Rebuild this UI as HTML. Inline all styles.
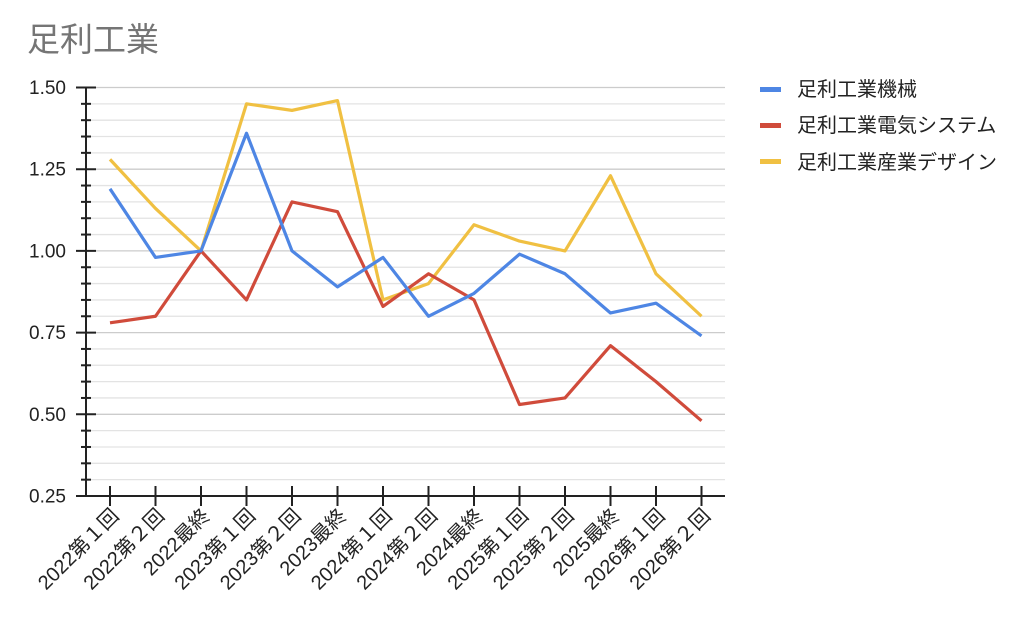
<!DOCTYPE html>
<html><head><meta charset="utf-8"><style>
body{margin:0;background:#fff;width:1024px;height:622px;overflow:hidden}
svg{display:block;font-family:"Liberation Sans","Noto Sans CJK JP",sans-serif}
</style></head><body>
<svg id="c" width="1024" height="622" xmlns="http://www.w3.org/2000/svg">
<text x="27" y="51" font-size="33" fill="#757575">足利工業</text>
<g id="g"></g>
<rect x="760" y="87" width="21" height="5" fill="#4e86e4"/>
<text x="797" y="96" font-size="20" fill="#222">足利工業機械</text>
<rect x="760" y="123" width="21" height="5" fill="#d04b3b"/>
<text x="797" y="132" font-size="20" fill="#222">足利工業電気システム</text>
<rect x="760" y="159" width="21" height="5" fill="#f0c042"/>
<text x="797" y="169" font-size="20" fill="#222">足利工業産業デザイン</text>
</svg>
<script>
var g=document.getElementById('g'),h='';
function Y(v){return 496-(v-0.25)/0.25*81.7;}
function X(i){return 110+i*45.5;}
for(var k=0;k<=25;k++){var v=0.25+k*0.05,y=Y(v);
 if(k>0)h+='<line x1="87" x2="725" y1="'+y+'" y2="'+y+'" stroke="'+(k%5==0?'#cccccc':'#e3e3e3')+'" stroke-width="1.3"/>';
 if(k%5==0){h+='<line x1="76" x2="96" y1="'+y+'" y2="'+y+'" stroke="#222" stroke-width="2"/>';
  h+='<text x="66" y="'+(y+6.5)+'" font-size="19" text-anchor="end" fill="#222">'+v.toFixed(2)+'</text>';}
 else h+='<line x1="81" x2="91" y1="'+y+'" y2="'+y+'" stroke="#222" stroke-width="2"/>';}
h+='<line x1="86" x2="86" y1="87" y2="497" stroke="#222" stroke-width="2"/>';
h+='<line x1="76" x2="725" y1="496" y2="496" stroke="#222" stroke-width="2"/>';
var labs=['2022第１回','2022第２回','2022最終','2023第１回','2023第２回','2023最終','2024第１回','2024第２回','2024最終','2025第１回','2025第２回','2025最終','2026第１回','2026第２回'];
for(var i=0;i<14;i++){var x=X(i);
 h+='<line x1="'+x+'" x2="'+x+'" y1="486" y2="506" stroke="#222" stroke-width="2"/>';
 h+='<text transform="translate('+(x+10)+',517) rotate(-45)" font-size="20" text-anchor="end" fill="#222">'+labs[i]+'</text>';}
var S=[['#f0c042',[1.28,1.13,1.00,1.45,1.43,1.46,0.85,0.90,1.08,1.03,1.00,1.23,0.93,0.80]],
['#d04b3b',[0.78,0.80,1.00,0.85,1.15,1.12,0.83,0.93,0.85,0.53,0.55,0.71,0.60,0.48]],
['#4e86e4',[1.19,0.98,1.00,1.36,1.00,0.89,0.98,0.80,0.87,0.99,0.93,0.81,0.84,0.74]]];
S.forEach(function(s){var p=s[1].map(function(v,i){return X(i)+','+Y(v)}).join(' ');
 h+='<polyline points="'+p+'" fill="none" stroke="'+s[0]+'" stroke-width="3.2" stroke-linejoin="round"/>';});
g.innerHTML=h;
</script>
</body></html>
